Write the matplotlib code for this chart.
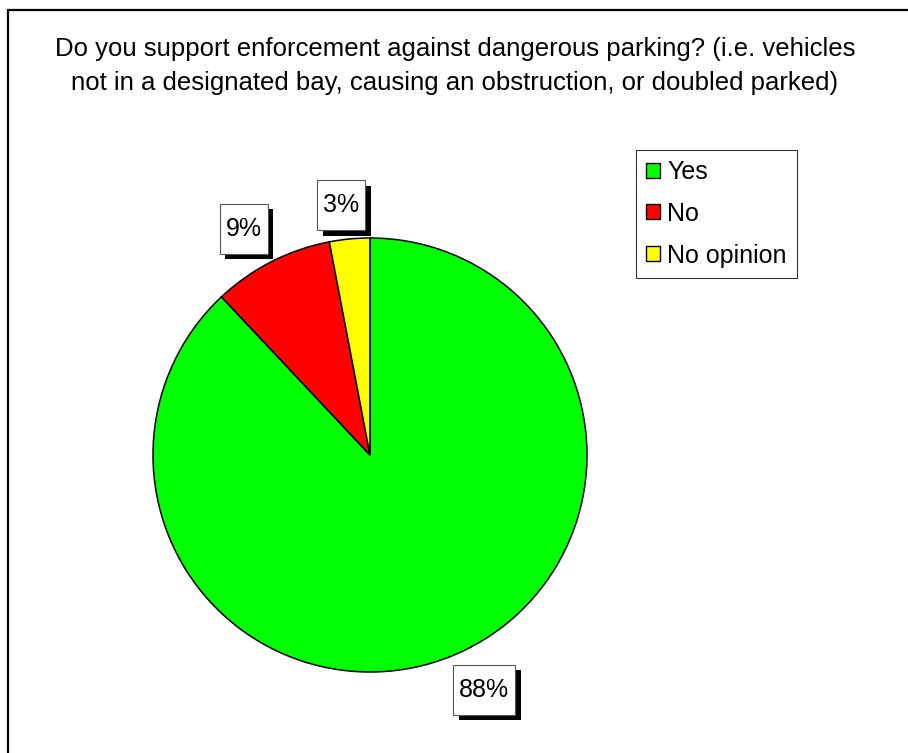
import matplotlib
matplotlib.use("Agg")
import numpy as np
import matplotlib.pyplot as plt
from matplotlib.patches import Rectangle, Patch
from matplotlib.path import Path
import matplotlib.patheffects as pe

plt.rcParams['font.family'] = ['Liberation Sans', 'DejaVu Sans']

title = "Do you support enforcement against dangerous parking? (i.e. vehicles\nnot in a designated bay, causing an obstruction, or doubled parked)"
categories = ["Yes", "No", "No opinion"]
values = [88, 9, 3]
colors = ["#00FF00", "#FF0000", "#FFFF00"]

W, H = 908, 753
fig = plt.figure(figsize=(W / 100, H / 100), dpi=100)
ax = fig.add_axes([0, 0, 1, 1])

# outer frame
fig.patches.append(Rectangle((8 / W, -0.1), 1.2, 1.1 - 10 / H, transform=fig.transFigure,
                             fill=False, edgecolor='black', linewidth=1.6))

cx, cy, R = 370, H - 455, 217
wedges, texts = ax.pie(
    values, colors=colors, startangle=90, counterclock=False,
    center=(cx, cy), radius=R, frame=True,
    wedgeprops=dict(edgecolor='black', linewidth=1.1))
ax.set_xlim(0, W)
ax.set_ylim(0, H)
ax.set_aspect('equal')
ax.axis('off')

fs = 18


def label_box(x0, y0, width, height, mutation_size):
    px = 0.24 * mutation_size
    py = 0.52 * mutation_size
    x0, y0 = x0 - px, y0 - py
    x1, y1 = x0 + width + 2 * px, y0 + height + 2 * py
    return Path([(x0, y0), (x1, y0), (x1, y1), (x0, y1), (x0, y0)], closed=True)


total = sum(values)
labels = []
for w, v in zip(wedges, values):
    mid = np.deg2rad((w.theta1 + w.theta2) / 2)
    c, s = np.cos(mid), np.sin(mid)
    anchor = (cx + 1.04 * R * c, cy + 1.04 * R * s)
    t = ax.annotate(f"{100 * v / total:.0f}%", xy=anchor, xytext=(0, 0),
                    textcoords='offset points', ha='center', va='center', fontsize=fs,
                    bbox=dict(boxstyle=label_box, facecolor='white',
                              edgecolor='#555555', linewidth=0.8))
    t.get_bbox_patch().set_path_effects([
        pe.SimplePatchShadow(offset=(4, -4), shadow_rgbFace='black', alpha=1.0),
        pe.Normal()])
    labels.append((t, c, s))

fig.canvas.draw()
renderer = fig.canvas.get_renderer()
for t, c, s in labels:
    ext = t.get_bbox_patch().get_window_extent(renderer)
    fx = float(np.clip(c / 0.3, -1, 1))
    fy = float(np.clip(s / 0.3, -1, 1))
    t.xyann = (fx * ext.width / 2 * 72 / 100, fy * ext.height / 2 * 72 / 100)

fig.text(455 / W, 1 - 66 / H, title, ha='center', va='center', fontsize=18.5, linespacing=1.5)

handles = [Patch(facecolor=c, edgecolor='black', linewidth=1.0) for c in colors]
leg = fig.legend(handles, categories, loc='upper left', bbox_to_anchor=(636 / W, 1 - 150 / H),
                 fontsize=18, frameon=True, fancybox=False, edgecolor='black',
                 handlelength=0.55, handleheight=0.55, handletextpad=0.3,
                 labelspacing=0.71, borderpad=0.4, borderaxespad=0)
leg.get_frame().set_linewidth(0.8)

fig.savefig("out.png", dpi=100, facecolor='white')
